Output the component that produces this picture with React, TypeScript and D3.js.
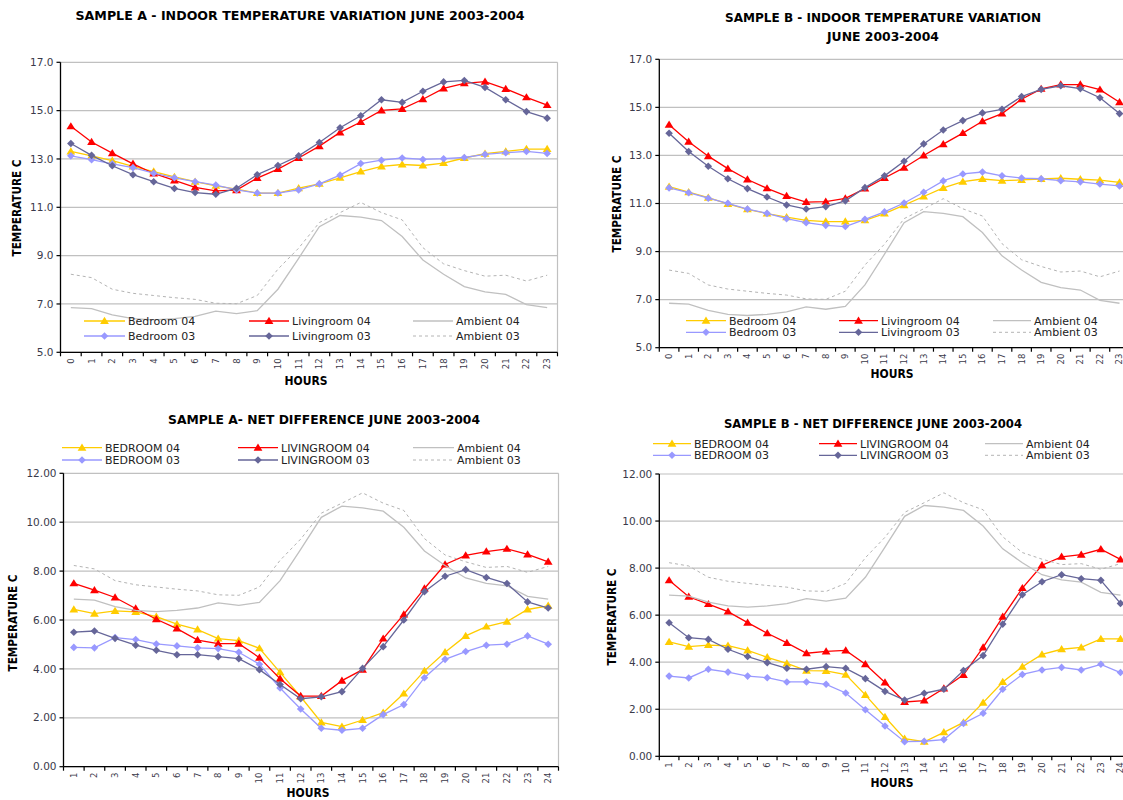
import React from "react";
import * as d3 from "d3";

// Hour labels for the two kinds of chart
const hoursIndoor = ["0","1","2","3","4","5","6","7","8","9","10","11","12","13","14","15","16","17","18","19","20","21","22","23"];
const hoursNet = ["1","2","3","4","5","6","7","8","9","10","11","12","13","14","15","16","17","18","19","20","21","22","23","24"];

// Ambient temperatures (same in every chart)
const ambient04 = [6.85, 6.81, 6.55, 6.39, 6.34, 6.39, 6.49, 6.70, 6.60, 6.72, 7.61, 8.89, 10.20, 10.66, 10.59, 10.45, 9.79, 8.82, 8.23, 7.72, 7.50, 7.40, 6.97, 6.85];
const ambient03 = [8.23, 8.09, 7.61, 7.44, 7.35, 7.26, 7.19, 7.03, 7.01, 7.35, 8.44, 9.31, 10.37, 10.78, 11.20, 10.78, 10.48, 9.33, 8.66, 8.38, 8.15, 8.19, 7.95, 8.19];

// Sample A indoor temperatures
const aBedroom04 = [13.31, 13.13, 12.93, 12.69, 12.48, 12.26, 12.06, 11.89, 11.75, 11.59, 11.59, 11.79, 11.97, 12.22, 12.48, 12.69, 12.77, 12.73, 12.83, 13.04, 13.22, 13.31, 13.41, 13.41];
const aLivingroom04 = [14.35, 13.70, 13.24, 12.80, 12.40, 12.11, 11.82, 11.68, 11.71, 12.21, 12.58, 13.04, 13.53, 14.10, 14.53, 15.01, 15.07, 15.47, 15.92, 16.13, 16.20, 15.90, 15.55, 15.23];
const aBedroom03 = [13.13, 12.97, 12.80, 12.64, 12.41, 12.22, 12.06, 11.92, 11.72, 11.59, 11.59, 11.72, 11.97, 12.33, 12.81, 12.95, 13.04, 12.98, 13.01, 13.06, 13.19, 13.26, 13.31, 13.23];
const aLivingroom03 = [13.64, 13.15, 12.72, 12.35, 12.06, 11.78, 11.61, 11.54, 11.79, 12.35, 12.73, 13.13, 13.68, 14.29, 14.79, 15.45, 15.34, 15.80, 16.19, 16.25, 15.96, 15.45, 14.96, 14.69];

// Sample B indoor temperatures
const bBedroom04 = [11.70, 11.47, 11.24, 10.98, 10.76, 10.58, 10.43, 10.30, 10.25, 10.25, 10.30, 10.58, 10.93, 11.29, 11.65, 11.91, 12.02, 11.95, 11.98, 12.02, 12.05, 12.01, 11.97, 11.88];
const bLivingroom04 = [14.28, 13.57, 12.97, 12.45, 12.00, 11.63, 11.31, 11.06, 11.08, 11.21, 11.62, 12.06, 12.49, 13.00, 13.47, 13.93, 14.42, 14.74, 15.34, 15.77, 15.95, 15.95, 15.74, 15.21];
const bBedroom03 = [11.65, 11.45, 11.22, 11.01, 10.77, 10.59, 10.37, 10.20, 10.09, 10.04, 10.34, 10.65, 11.02, 11.47, 11.94, 12.23, 12.31, 12.15, 12.06, 12.03, 11.95, 11.90, 11.81, 11.73];
const bLivingroom03 = [13.92, 13.16, 12.55, 12.03, 11.62, 11.27, 10.94, 10.77, 10.87, 11.11, 11.66, 12.15, 12.76, 13.48, 14.06, 14.45, 14.77, 14.92, 15.45, 15.75, 15.90, 15.78, 15.40, 14.74];

// Sample A net difference
const aNetBedroom04 = [6.43, 6.26, 6.37, 6.33, 6.14, 5.83, 5.61, 5.24, 5.16, 4.84, 3.86, 2.86, 1.81, 1.64, 1.91, 2.21, 2.99, 3.92, 4.68, 5.35, 5.73, 5.93, 6.43, 6.58];
const aNetLivingroom04 = [7.50, 7.22, 6.92, 6.47, 6.03, 5.65, 5.18, 5.03, 5.03, 4.46, 3.60, 2.89, 2.89, 3.52, 3.97, 5.24, 6.23, 7.29, 8.27, 8.64, 8.80, 8.91, 8.68, 8.38];
const aNetBedroom03 = [4.88, 4.86, 5.28, 5.20, 5.02, 4.94, 4.86, 4.83, 4.68, 4.19, 3.22, 2.36, 1.57, 1.49, 1.57, 2.13, 2.54, 3.64, 4.39, 4.71, 4.97, 5.01, 5.35, 5.01];
const aNetLivingroom03 = [5.50, 5.55, 5.25, 4.97, 4.76, 4.58, 4.58, 4.50, 4.42, 3.97, 3.36, 2.78, 2.86, 3.07, 4.02, 4.91, 6.00, 7.16, 7.79, 8.06, 7.74, 7.49, 6.74, 6.49];

// Sample B net difference
const bNetBedroom04 = [4.86, 4.66, 4.73, 4.70, 4.50, 4.21, 3.95, 3.64, 3.63, 3.47, 2.61, 1.67, 0.75, 0.62, 1.02, 1.44, 2.28, 3.16, 3.81, 4.33, 4.55, 4.63, 4.99, 4.99];
const bNetLivingroom04 = [7.48, 6.78, 6.47, 6.15, 5.68, 5.23, 4.82, 4.38, 4.46, 4.50, 3.91, 3.14, 2.31, 2.37, 2.88, 3.46, 4.63, 5.93, 7.15, 8.12, 8.48, 8.57, 8.80, 8.37];
const bNetBedroom03 = [3.41, 3.33, 3.70, 3.58, 3.41, 3.34, 3.16, 3.16, 3.06, 2.69, 1.98, 1.29, 0.62, 0.64, 0.71, 1.40, 1.83, 2.85, 3.48, 3.67, 3.78, 3.67, 3.91, 3.56];
const bNetLivingroom03 = [5.68, 5.04, 4.97, 4.55, 4.24, 3.98, 3.74, 3.70, 3.81, 3.74, 3.30, 2.76, 2.39, 2.68, 2.85, 3.65, 4.28, 5.62, 6.87, 7.42, 7.72, 7.55, 7.48, 6.50];

// Axis ticks
const indoorTicks = [5, 7, 9, 11, 13, 15, 17];
const netTicks = [0, 2, 4, 6, 8, 10, 12];

const FONT = "'DejaVu Sans', 'Liberation Sans', sans-serif";
const GRID = "#c0c0c0";

type Marker = "triangle" | "diamond" | "none";
interface SeriesStyle { key: string; color: string; marker: Marker; dash?: string; width: number }

const STYLES: Record<string, SeriesStyle> = {
  bed04: { key: "bed04", color: "#ffcc00", marker: "triangle", width: 1.3 },
  liv04: { key: "liv04", color: "#ff0000", marker: "triangle", width: 1.3 },
  amb04: { key: "amb04", color: "#c0c0c0", marker: "none", width: 1.3 },
  bed03: { key: "bed03", color: "#9999ff", marker: "diamond", width: 1.3 },
  liv03: { key: "liv03", color: "#666699", marker: "diamond", width: 1.3 },
  amb03: { key: "amb03", color: "#b4b4b4", marker: "none", dash: "3,3", width: 1 },
};

function markerPath(m: Marker): string {
  if (m === "triangle") return "M0,-4.2L4.4,3L-4.4,3Z";
  if (m === "diamond") return "M0,-3.8L3.8,0L0,3.8L-3.8,0Z";
  return "";
}

interface PanelSpec {
  id: string;
  title: string[];
  titleX: number;
  titleY: number;
  titleLen: number[];
  left: number;
  width: number;
  top: number;
  bottom: number;
  domain: [number, number];
  ticks: number[];
  fmt: string;
  cats: string[];
  series: { style: SeriesStyle; values: number[] }[];
  legendRows: [number, number];
  legendCols: [number, number][];
  legendUpper: boolean;
  yLabel: [number, number];
  xLabel: [number, number];
}

function Panel({ p }: { p: PanelSpec }) {
  const x = d3.scaleBand<string>().domain(p.cats).range([p.left, p.left + p.width]);
  const y = d3.scaleLinear().domain(p.domain).range([p.bottom, p.top]);
  const cx = (c: string) => (x(c) as number) + x.bandwidth() / 2;
  const line = d3
    .line<number>()
    .x((_, i) => cx(p.cats[i]))
    .y((d) => y(d));
  const right = p.left + p.width;
  const fmt = d3.format(p.fmt);
  const boundaries = p.cats.map((c) => x(c) as number).concat([right]);

  const names = p.legendUpper
    ? ["BEDROOM 04", "LIVINGROOM 04", "Ambient 04", "BEDROOM 03", "LIVINGROOM 03", "Ambient 03"]
    : ["Bedroom 04", "Livingroom 04", "Ambient 04", "Bedroom 03", "Livingroom 03", "Ambient 03"];
  const legendKeys = ["bed04", "liv04", "amb04", "bed03", "liv03", "amb03"];

  return (
    <g>
      {/* title */}
      {p.title.map((t, i) => (
        <text
          key={t}
          x={p.titleX}
          y={p.titleY + i * 19}
          textAnchor="middle"
          fontFamily={FONT}
          fontWeight="bold"
          fontSize={13}
          textLength={p.titleLen[i]}
          lengthAdjust="spacingAndGlyphs"
          fill="#000"
        >
          {t}
        </text>
      ))}
      {/* gridlines */}
      {p.ticks.map((t) => (
        <line key={"g" + t} x1={p.left} x2={right} y1={y(t)} y2={y(t)} stroke={GRID} strokeWidth={1.2} />
      ))}
      <line x1={right} x2={right} y1={p.top} y2={p.bottom} stroke={GRID} strokeWidth={1.2} />
      {/* series */}
      {p.series.map((s) => (
        <g key={s.style.key}>
          <path
            d={line(s.values) || ""}
            fill="none"
            stroke={s.style.color}
            strokeWidth={s.style.width}
            strokeDasharray={s.style.dash}
          />
          {s.style.marker !== "none" &&
            s.values.map((v, i) => (
              <path
                key={i}
                d={markerPath(s.style.marker)}
                transform={`translate(${cx(p.cats[i])},${y(v)})`}
                fill={s.style.color}
              />
            ))}
        </g>
      ))}
      {/* axes */}
      <line x1={p.left} x2={p.left} y1={p.top} y2={p.bottom} stroke="#000" strokeWidth={1.3} />
      <line x1={p.left} x2={right} y1={p.bottom} y2={p.bottom} stroke="#000" strokeWidth={1.3} />
      {p.ticks.map((t) => (
        <g key={"yt" + t}>
          <line x1={p.left - 4} x2={p.left} y1={y(t)} y2={y(t)} stroke="#000" strokeWidth={1.2} />
          <text
            x={p.left - 7}
            y={y(t)}
            dy="0.35em"
            textAnchor="end"
            fontFamily={FONT}
            fontSize={10.5}
            fill="#3a3a4a"
          >
            {fmt(t)}
          </text>
        </g>
      ))}
      {boundaries.map((b, i) => (
        <line key={"xt" + i} x1={b} x2={b} y1={p.bottom} y2={p.bottom + 4} stroke="#000" strokeWidth={1.2} />
      ))}
      {p.cats.map((c) => (
        <text
          key={"xl" + c}
          transform={`translate(${cx(c)},${p.bottom + 6}) rotate(-90)`}
          dy="0.35em"
          textAnchor="end"
          fontFamily={FONT}
          fontSize={8.5}
          fill="#3a3a4a"
        >
          {c}
        </text>
      ))}
      {/* axis titles */}
      <text
        transform={`translate(${p.yLabel[0]},${p.yLabel[1]}) rotate(-90)`}
        textAnchor="middle"
        dy="0.35em"
        fontFamily={FONT}
        fontWeight="bold"
        fontSize={12}
        textLength={97}
        lengthAdjust="spacingAndGlyphs"
      >
        TEMPERATURE C
      </text>
      <text
        x={p.xLabel[0]}
        y={p.xLabel[1]}
        textAnchor="middle"
        dy="0.35em"
        fontFamily={FONT}
        fontWeight="bold"
        fontSize={12}
        textLength={43}
        lengthAdjust="spacingAndGlyphs"
      >
        HOURS
      </text>
      {/* legend */}
      {legendKeys.map((k, i) => {
        const st = STYLES[k];
        const row = Math.floor(i / 3);
        const col = i % 3;
        const [x0, x1] = p.legendCols[col];
        const ly = p.legendRows[row];
        return (
          <g key={"lg" + k}>
            <line x1={x0} x2={x1} y1={ly} y2={ly} stroke={st.color} strokeWidth={st.width} strokeDasharray={st.dash} />
            {st.marker !== "none" && (
              <path d={markerPath(st.marker)} transform={`translate(${(x0 + x1) / 2},${ly})`} fill={st.color} />
            )}
            <text x={x1 + 3} y={ly} dy="0.35em" fontFamily={FONT} fontSize={11} fill="#222">
              {names[i]}
            </text>
          </g>
        );
      })}
    </g>
  );
}

function makeSeries(b04: number[], l04: number[], b03: number[], l03: number[]) {
  return [
    { style: STYLES.bed04, values: b04 },
    { style: STYLES.liv04, values: l04 },
    { style: STYLES.amb04, values: ambient04 },
    { style: STYLES.bed03, values: b03 },
    { style: STYLES.liv03, values: l03 },
    { style: STYLES.amb03, values: ambient03 },
  ];
}

const panels: PanelSpec[] = [
  {
    id: "aIndoor",
    title: ["SAMPLE A - INDOOR TEMPERATURE VARIATION JUNE 2003-2004"],
    titleX: 300,
    titleY: 20,
    titleLen: [449],
    left: 60.5,
    width: 497,
    top: 62.3,
    bottom: 352.3,
    domain: [5, 17],
    ticks: indoorTicks,
    fmt: ".1f",
    cats: hoursIndoor,
    series: makeSeries(aBedroom04, aLivingroom04, aBedroom03, aLivingroom03),
    legendRows: [321, 336],
    legendCols: [[84, 125], [249, 289], [413, 453]],
    legendUpper: false,
    yLabel: [17, 208],
    xLabel: [306, 381],
  },
  {
    id: "bIndoor",
    title: ["SAMPLE B - INDOOR TEMPERATURE VARIATION", "JUNE 2003-2004"],
    titleX: 883,
    titleY: 22,
    titleLen: [316, 112],
    left: 659.3,
    width: 470,
    top: 59.3,
    bottom: 347.7,
    domain: [5, 17],
    ticks: indoorTicks,
    fmt: ".1f",
    cats: hoursIndoor,
    series: makeSeries(bBedroom04, bLivingroom04, bBedroom03, bLivingroom03),
    legendRows: [320.7, 332.3],
    legendCols: [[686, 726], [839, 878], [993, 1031]],
    legendUpper: false,
    yLabel: [617, 204],
    xLabel: [892, 374],
  },
  {
    id: "aNet",
    title: ["SAMPLE A- NET DIFFERENCE JUNE 2003-2004"],
    titleX: 324,
    titleY: 424,
    titleLen: [312],
    left: 63.5,
    width: 495,
    top: 473.3,
    bottom: 766.7,
    domain: [0, 12],
    ticks: netTicks,
    fmt: ".2f",
    cats: hoursNet,
    series: makeSeries(aNetBedroom04, aNetLivingroom04, aNetBedroom03, aNetLivingroom03),
    legendRows: [447.7, 460],
    legendCols: [[62, 102], [238, 278], [413, 454]],
    legendUpper: true,
    yLabel: [13, 623],
    xLabel: [308, 793],
  },
  {
    id: "bNet",
    title: ["SAMPLE B - NET DIFFERENCE JUNE 2003-2004"],
    titleX: 873,
    titleY: 428,
    titleLen: [298],
    left: 659.3,
    width: 471,
    top: 474,
    bottom: 756.3,
    domain: [0, 12],
    ticks: netTicks,
    fmt: ".2f",
    cats: hoursNet,
    series: makeSeries(bNetBedroom04, bNetLivingroom04, bNetBedroom03, bNetLivingroom03),
    legendRows: [443.7, 455.3],
    legendCols: [[653, 691], [819, 857], [985, 1023]],
    legendUpper: true,
    yLabel: [612, 617],
    xLabel: [892, 783],
  },
];

export default function App() {
  return (
    <svg
      width={1123}
      height={800}
      style={{ position: "absolute", left: 0, top: 0, display: "block", background: "#fff" }}
    >
      <rect x={0} y={0} width={1123} height={800} fill="#fff" />
      {panels.map((p) => (
        <Panel key={p.id} p={p} />
      ))}
    </svg>
  );
}
